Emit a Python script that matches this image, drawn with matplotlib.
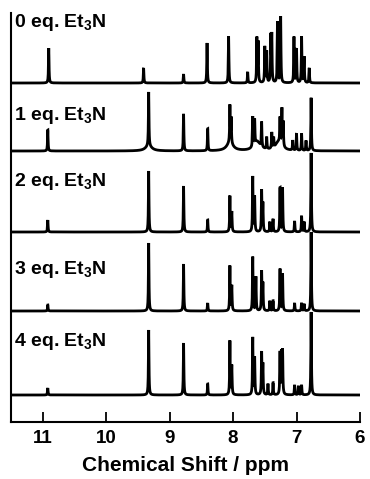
import numpy as np
import matplotlib
matplotlib.use("Agg")
import matplotlib.pyplot as plt

plt.rcParams['font.family'] = ['Liberation Sans', 'DejaVu Sans']
plt.rcParams['mathtext.fontset'] = 'custom'
plt.rcParams['mathtext.rm'] = 'Liberation Sans:bold'
plt.rcParams['mathtext.it'] = 'Liberation Sans:bold'
plt.rcParams['mathtext.bf'] = 'Liberation Sans:bold'

# ---------------- data (peak positions in ppm, heights in arbitrary units) ----------
labels = ["0 eq. Et$_3$N", "1 eq. Et$_3$N", "2 eq. Et$_3$N", "3 eq. Et$_3$N", "4 eq. Et$_3$N"]

t0_ppm = [10.905, 9.41, 8.78, 8.41, 8.07, 7.77, 7.625, 7.605, 7.50, 7.47, 7.405, 7.39,
          7.30, 7.25, 7.04, 7.00, 6.92, 6.88, 6.80]
t0_h = [35, 15, 9, 40, 47, 11, 44, 40, 36, 31, 45, 46, 61, 66, 46, 34, 46, 26, 15]

t1_ppm = [10.92, 9.33, 8.78, 8.40, 8.05, 8.03, 7.69, 7.66, 7.55, 7.47, 7.39, 7.36,
          7.26, 7.23, 7.21, 7.06, 7.00, 6.92, 6.85, 6.77]
t1_h = [21, 54, 37, 22, 37, 25, 30, 25, 25, 12, 16, 10, 25, 36, 24, 10, 17, 17, 10, 53]
t1_broad_ppm = [7.62, 7.28, 8.05, 9.33]
t1_broad_h = [9, 9, 8, 5]

t2_ppm = [10.92, 9.33, 8.78, 8.40, 8.05, 8.02, 7.69, 7.66, 7.55, 7.53, 7.42, 7.37,
          7.26, 7.22, 7.03, 6.92, 6.88, 6.77]
t2_h = [12, 61, 46, 12, 36, 20, 55, 35, 41, 28, 10, 13, 44, 44, 11, 16, 10, 79]

t3_ppm = [10.92, 9.33, 8.78, 8.40, 8.05, 8.02, 7.69, 7.64, 7.55, 7.53, 7.42, 7.37,
          7.26, 7.22, 7.03, 6.92, 6.88, 6.77]
t3_h = [6, 68, 47, 8, 45, 25, 54, 34, 39, 27, 10, 10, 42, 37, 8, 8, 7, 79]

t4_ppm = [10.92, 9.33, 8.78, 8.40, 8.05, 8.02, 7.69, 7.66, 7.55, 7.53, 7.45, 7.37,
          7.26, 7.235, 7.22, 7.03, 6.97, 6.92, 6.77]
t4_h = [7, 65, 52, 11, 54, 29, 57, 37, 42, 30, 11, 12, 42, 40, 42, 10, 9, 10, 83]

traces = [(t0_ppm, t0_h), (t1_ppm, t1_h), (t2_ppm, t2_h), (t3_ppm, t3_h), (t4_ppm, t4_h)]

x_ticks = [11, 10, 9, 8, 7, 6]

# ---------------- layout constants ----------------
baselines = [339, 271, 190, 111, 27]
label_y = [395, 302, 236, 148, 76]
W = 370
H = 479

ppm = np.linspace(6.0, 11.5, 8000)


def lorentz(x, p, h, w):
    return h * w ** 2 / ((x - p) ** 2 + w ** 2)


fig = plt.figure(figsize=(W / 100, H / 100), dpi=100)
ax = fig.add_axes([11 / W, 57 / H, 349 / W, 409 / H])

for i, (pp, hh) in enumerate(traces):
    y = np.zeros_like(ppm)
    for p, h in zip(pp, hh):
        y += lorentz(ppm, p, h, 0.005)
    if i == 1:
        for p, h in zip(t1_broad_ppm, t1_broad_h):
            y += lorentz(ppm, p, h, 0.06)
    ax.plot(ppm, y + baselines[i], color='black', lw=2.0, solid_joinstyle='miter')
    ax.text(11.455, label_y[i], labels[i], fontsize=14, fontweight='bold',
            ha='left', va='baseline')

ax.set_xlim(11.5, 6.0)
ax.set_ylim(0, 409)
ax.set_xticks(x_ticks)
ax.set_xticklabels([str(t) for t in x_ticks], fontsize=13.5, fontweight='bold')
ax.set_yticks([])
ax.tick_params(axis='x', direction='in', length=7, width=1.3, pad=6)
for s in ['top', 'right']:
    ax.spines[s].set_visible(False)
for s in ['left', 'bottom']:
    ax.spines[s].set_linewidth(1.5)
ax.set_xlabel("Chemical Shift / ppm", fontsize=15, fontweight='bold', labelpad=6)

fig.savefig("out.png", dpi=100)
